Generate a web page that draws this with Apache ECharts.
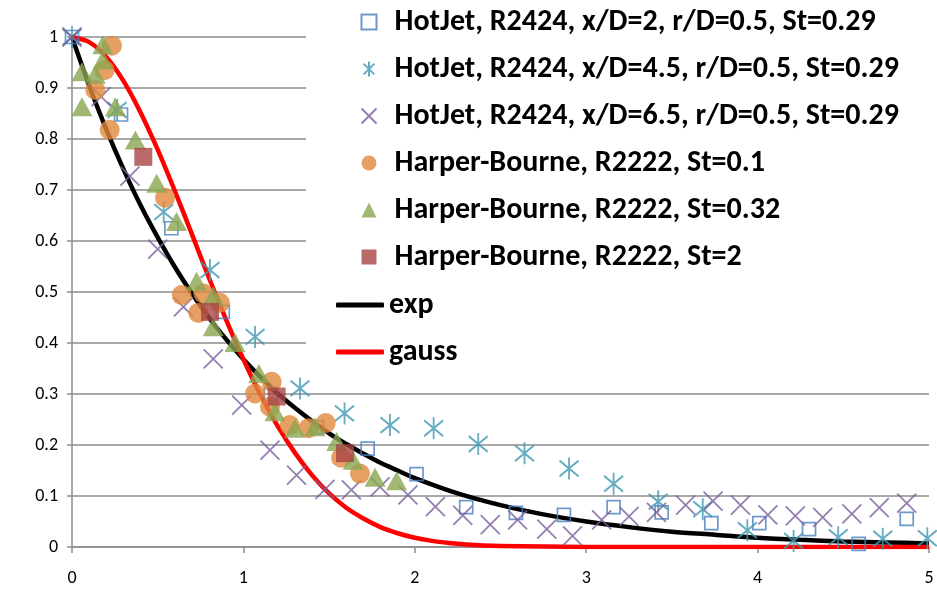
<!DOCTYPE html>
<html>
<head>
<meta charset="utf-8">
<script src="https://cdn.jsdelivr.net/npm/echarts@6/dist/echarts.min.js"></script>
<style>
html,body{margin:0;padding:0;background:#fff;}
#chart{width:937px;height:594px;}
</style>
</head>
<body>
<div id="chart"></div>
<script>
// ---- data ----
const seriesNames = [
  'HotJet, R2424, x/D=2, r/D=0.5, St=0.29',
  'HotJet, R2424, x/D=4.5, r/D=0.5, St=0.29',
  'HotJet, R2424, x/D=6.5, r/D=0.5, St=0.29',
  'Harper-Bourne, R2222, St=0.1',
  'Harper-Bourne, R2222, St=0.32',
  'Harper-Bourne, R2222, St=2',
  'exp',
  'gauss'
];
const xTicks = [0, 1, 2, 3, 4, 5];
const yTicks = [0, 0.1, 0.2, 0.3, 0.4, 0.5, 0.6, 0.7, 0.8, 0.9, 1];

const sqX = [0, 0.286, 0.58, 0.88, 1.16, 1.43, 1.725, 2.01, 2.30, 2.59, 2.87, 3.16, 3.44, 3.73, 4.01, 4.30, 4.59, 4.87];
const sqY = [1.0, 0.848, 0.625, 0.461, 0.30, 0.235, 0.193, 0.143, 0.078, 0.067, 0.063, 0.078, 0.068, 0.047, 0.047, 0.035, 0.006, 0.055];

const astX = [0, 0.263, 0.535, 0.805, 1.068, 1.33, 1.59, 1.855, 2.11, 2.37, 2.64, 2.90, 3.16, 3.42, 3.68, 3.94, 4.21, 4.47, 4.73, 4.99];
const astY = [1.0, 0.857, 0.657, 0.543, 0.412, 0.311, 0.262, 0.239, 0.233, 0.202, 0.184, 0.154, 0.124, 0.089, 0.074, 0.033, 0.012, 0.019, 0.016, 0.017];

const crX = [0, 0.17, 0.338, 0.50, 0.65, 0.824, 0.99, 1.155, 1.31, 1.476, 1.63, 1.797, 1.96, 2.12, 2.28, 2.44, 2.60, 2.77, 2.92, 3.09, 3.25, 3.41, 3.58, 3.74, 3.90, 4.06, 4.22, 4.38, 4.55, 4.71, 4.87];
const crY = [1.0, 0.883, 0.727, 0.584, 0.471, 0.369, 0.278, 0.19, 0.141, 0.113, 0.112, 0.118, 0.102, 0.079, 0.062, 0.044, 0.053, 0.035, 0.022, 0.053, 0.06, 0.068, 0.082, 0.09, 0.082, 0.063, 0.061, 0.058, 0.065, 0.077, 0.086];

const orX = [0.136, 0.19, 0.233, 0.22, 0.543, 0.64, 0.737, 0.766, 0.863, 1.068, 1.155, 1.165, 1.27, 1.38, 1.48, 1.57, 1.68];
const orY = [0.896, 0.935, 0.983, 0.818, 0.685, 0.494, 0.459, 0.497, 0.479, 0.301, 0.275, 0.324, 0.239, 0.233, 0.243, 0.175, 0.144];

const trX = [0.058, 0.058, 0.136, 0.18, 0.18, 0.253, 0.37, 0.494, 0.61, 0.727, 0.824, 0.824, 0.951, 1.09, 1.184, 1.30, 1.418, 1.544, 1.64, 1.768, 1.894];
const trY = [0.932, 0.863, 0.927, 0.985, 0.955, 0.863, 0.798, 0.713, 0.638, 0.521, 0.492, 0.432, 0.401, 0.34, 0.265, 0.233, 0.236, 0.207, 0.17, 0.137, 0.13];

const rsX = [0.416, 0.805, 1.194, 1.593];
const rsY = [0.765, 0.461, 0.295, 0.184];

const expX = [0, 0.1, 0.2, 0.3, 0.4, 0.5, 0.6, 0.7, 0.8, 0.9, 1.0, 1.1, 1.2, 1.3, 1.4, 1.5, 1.6, 1.7, 1.8, 1.9, 2.0, 2.25, 2.5, 2.75, 3.0, 3.25, 3.5, 3.75, 4.0, 4.25, 4.5, 4.75, 5.0];
const expY = [1, 0.905, 0.819, 0.741, 0.670, 0.607, 0.549, 0.497, 0.449, 0.407, 0.368, 0.333, 0.301, 0.273, 0.247, 0.223, 0.202, 0.183, 0.165, 0.150, 0.135, 0.105, 0.082, 0.064, 0.050, 0.039, 0.030, 0.024, 0.018, 0.014, 0.011, 0.009, 0.007];

const gaussX = [0, 0.1, 0.2, 0.3, 0.4, 0.5, 0.6, 0.7, 0.8, 0.9, 1.0, 1.1, 1.2, 1.3, 1.4, 1.5, 1.6, 1.7, 1.8, 1.9, 2.0, 2.1, 2.2, 2.3, 2.4, 2.5, 3.0, 4.0, 5.0];
const gaussY = [1, 0.990, 0.961, 0.914, 0.852, 0.779, 0.698, 0.613, 0.527, 0.445, 0.368, 0.298, 0.237, 0.185, 0.141, 0.105, 0.077, 0.056, 0.039, 0.027, 0.018, 0.012, 0.008, 0.005, 0.003, 0.002, 0.0001, 0, 0];

// ---- build ----
const pairs = (xs, ys) => xs.map((x, i) => [x, ys[i]]);
const FONT = 'Carlito, Lato, "Liberation Sans", sans-serif';
const legendText = {color: '#000', fontSize: 30, fontWeight: 'bold', fontFamily: FONT, lineHeight: 30};

const chart = echarts.init(document.getElementById('chart'), null, {renderer: 'canvas'});

const option = {
  animation: false,
  backgroundColor: '#ffffff',
  grid: {left: 72, right: 8, top: 37, bottom: 47, containLabel: false},
  graphic: [{
    type: 'rect', z: 3, silent: true,
    shape: {x: 306, y: 0, width: 640, height: 372},
    style: {fill: '#ffffff'}
  }],
  xAxis: {
    type: 'value', min: xTicks[0], max: xTicks[xTicks.length - 1], interval: 1,
    axisLine: {show: true, lineStyle: {color: '#8c8c8c', width: 1.5}},
    axisTick: {show: true, inside: false, length: 6, lineStyle: {color: '#8c8c8c', width: 1.5}},
    splitLine: {show: false},
    axisLabel: {color: '#000', fontSize: 18, fontFamily: FONT, margin: 22}
  },
  yAxis: {
    type: 'value', min: yTicks[0], max: yTicks[yTicks.length - 1], interval: 0.1,
    axisLine: {show: true, lineStyle: {color: '#8c8c8c', width: 1.5}},
    axisTick: {show: true, inside: false, length: 5, lineStyle: {color: '#8c8c8c', width: 1.5}},
    splitLine: {show: true, lineStyle: {color: '#8c8c8c', width: 1.5}},
    axisLabel: {color: '#000', fontSize: 18, fontFamily: FONT, margin: 14}
  },
  legend: [
    {
      orient: 'vertical', left: 306, top: 0, z: 4,
      padding: [7, 0, 0, 53],
      itemWidth: 15, itemHeight: 15, itemGap: 17,
      data: seriesNames.slice(0, 6),
      formatter: name => '{t|' + name + '}',
      textStyle: Object.assign({}, legendText, {
        rich: {t: Object.assign({}, legendText, {padding: [0, 0, 0, 13]})}
      })
    },
    {
      orient: 'vertical', left: 306, top: 272, z: 4,
      padding: [18, 0, 0, 30],
      itemWidth: 48, itemHeight: 5, itemGap: 17,
      icon: 'roundRect',
      data: seriesNames.slice(6),
      textStyle: legendText
    }
  ],
  series: [
    {
      name: seriesNames[0], type: 'scatter', z: 2, data: pairs(sqX, sqY),
      symbol: 'rect', symbolSize: 13,
      itemStyle: {color: 'none', borderColor: '#4a7ebb', borderWidth: 1.7}
    },
    {
      name: seriesNames[1], type: 'scatter', z: 2, data: pairs(astX, astY),
      symbol: 'path://M0,2L10,12M10,2L0,12M5,0L5,14', symbolSize: [19, 22],
      itemStyle: {color: 'none', borderColor: '#4198b2', borderWidth: 2}
    },
    {
      name: seriesNames[2], type: 'scatter', z: 2, data: pairs(crX, crY),
      symbol: 'path://M0,0L10,10M10,0L0,10', symbolSize: 19,
      itemStyle: {color: 'none', borderColor: '#7a5f9c', borderWidth: 1.8}
    },
    {
      name: seriesNames[3], type: 'scatter', z: 2, data: pairs(orX, orY),
      symbol: 'circle', symbolSize: 20,
      itemStyle: {color: '#e0883c'}
    },
    {
      name: seriesNames[4], type: 'scatter', z: 2, data: pairs(trX, trY),
      symbol: 'triangle', symbolSize: [21, 19],
      itemStyle: {color: '#8aa651'}
    },
    {
      name: seriesNames[5], type: 'scatter', z: 2, data: pairs(rsX, rsY),
      symbol: 'rect', symbolSize: 18,
      itemStyle: {color: '#a84543'}
    },
    {
      name: seriesNames[6], type: 'line', z: 1, data: pairs(expX, expY),
      showSymbol: false, symbol: 'none', smooth: 0.3,
      lineStyle: {color: '#000000', width: 4.5},
      itemStyle: {color: '#000000'}
    },
    {
      name: seriesNames[7], type: 'line', z: 1, data: pairs(gaussX, gaussY),
      showSymbol: false, symbol: 'none', smooth: 0.3,
      lineStyle: {color: '#ff0000', width: 4.5},
      itemStyle: {color: '#ff0000'}
    }
  ]
};
chart.setOption(option);
</script>
</body>
</html>
